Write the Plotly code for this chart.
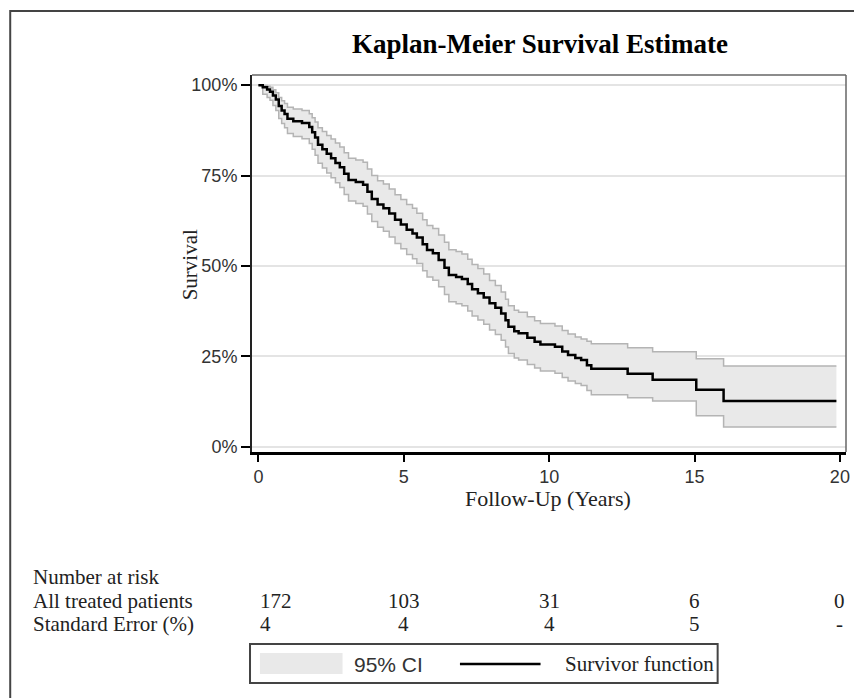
import plotly.graph_objects as go

# ---- data ----
times = [0.0, 0.15, 0.3, 0.4, 0.5, 0.6, 0.7, 0.8, 0.9, 1.0, 1.2, 1.5, 1.75, 1.85, 1.95,
         2.05, 2.2, 2.35, 2.5, 2.65, 2.8, 2.95, 3.1, 3.35, 3.6, 3.75, 3.9, 4.1, 4.3, 4.5,
         4.7, 4.9, 5.1, 5.3, 5.45, 5.65, 5.8, 6.0, 6.2, 6.4, 6.55, 6.8, 7.0, 7.2, 7.35,
         7.55, 7.75, 7.95, 8.15, 8.35, 8.5, 8.6, 8.8, 8.95, 9.25, 9.5, 9.7, 10.2, 10.45,
         10.65, 10.9, 11.1, 11.3, 11.45, 12.7, 13.56, 15.06, 16.0]
survival = [100, 99.4, 98.8, 98.2, 97.1, 96.0, 94.2, 93.0, 92.0, 90.7, 90.0, 89.5, 88.4, 87.0, 85.5,
            83.5, 82.3, 81.0, 79.8, 78.5, 77.3, 75.5, 73.8, 73.2, 72.5, 70.5, 68.5, 67.0, 66.0, 64.5,
            62.8, 61.5, 60.0, 59.0, 57.9, 56.0, 54.4, 53.5, 51.7, 49.5, 47.5, 47.0, 46.4, 45.0, 43.6,
            42.5, 41.3, 39.7, 38.5, 36.9, 35.0, 33.2, 32.0, 31.4, 30.2, 29.1, 28.3, 27.7, 26.4,
            25.4, 24.6, 24.0, 22.6, 21.6, 20.2, 18.6, 15.8, 12.7]
ci_lower = [100, 97.5, 96.6, 95.8, 94.4, 93.0, 90.8, 89.4, 88.2, 86.6, 85.8, 85.2, 83.9, 82.3, 80.6,
            78.4, 77.1, 75.7, 74.4, 73.0, 71.7, 69.8, 68.0, 67.3, 66.5, 64.4, 62.3, 60.7, 59.6, 58.0,
            56.2, 54.8, 53.2, 52.0, 50.7, 48.7, 47.0, 46.1, 44.3, 42.1, 40.1, 39.6, 39.0, 37.6, 36.2,
            35.1, 33.9, 32.3, 31.1, 29.5, 27.6, 25.8, 24.6, 24.0, 22.8, 21.8, 21.0, 20.4, 19.2,
            18.2, 17.5, 17.0, 15.6, 14.4, 13.6, 12.7, 8.6, 5.5]
ci_upper = [100, 99.9, 99.7, 99.4, 98.7, 97.9, 96.6, 95.7, 94.9, 93.9, 93.4, 93.0, 92.1, 91.0, 89.8,
            88.2, 87.2, 86.1, 85.1, 84.0, 82.9, 81.3, 79.8, 79.3, 78.7, 76.8, 75.0, 73.6, 72.7, 71.3,
            69.7, 68.4, 67.0, 66.0, 64.6, 62.8, 61.2, 60.4, 58.6, 56.6, 54.5, 54.0, 53.3, 51.9, 50.4,
            49.3, 47.8, 46.0, 44.6, 42.8, 40.8, 39.0, 37.8, 37.2, 36.0, 34.9, 34.1, 33.4, 32.2,
            31.2, 30.4, 29.8, 29.2, 28.5, 27.4, 26.3, 24.4, 22.4]
last_followup = 19.88

risk_times = [0, 5, 10, 15, 20]
n_at_risk = ["172", "103", "31", "6", "0"]
std_error = ["4", "4", "4", "5", "-"]

y_tickvals = [0, 25, 50, 75, 100]
y_ticktext = ["0%", "25%", "50%", "75%", "100%"]
x_tickvals = [0, 5, 10, 15, 20]

SERIF = "Liberation Serif, Times New Roman, serif"
SANS = "Liberation Sans, Arial, sans-serif"

xs = times + [last_followup]
fig = go.Figure()
fig.add_trace(go.Scatter(x=xs, y=ci_upper + [ci_upper[-1]], mode="lines", line_shape="hv",
                         line=dict(color="#b4b4b4", width=1.5), showlegend=False, hoverinfo="skip"))
fig.add_trace(go.Scatter(x=xs, y=ci_lower + [ci_lower[-1]], mode="lines", line_shape="hv",
                         line=dict(color="#b4b4b4", width=1.5), fill="tonexty", fillcolor="#e9e9e9",
                         name="95% CI", showlegend=False))
fig.add_trace(go.Scatter(x=xs, y=survival + [survival[-1]], mode="lines", line_shape="hv",
                         line=dict(color="black", width=2.5), name="Survivor function", showlegend=False))

# the page body has an 8px margin: page coordinate = figure coordinate + 8
OFF = 8
W, H = 862 - OFF, 698 - OFF
L, R, T, B = 252 - OFF, 849 - OFF, 75 - OFF, 452 - OFF

def px(xpage):
    return (xpage - OFF - L) / (R - L)

def py(ypage):
    return (B - (ypage - OFF)) / (B - T)

shapes = [
    # outer frame
    dict(type="rect", xref="paper", yref="paper", x0=px(9), x1=px(900), y0=py(11), y1=py(760),
         line=dict(color="#444", width=2)),
    # top and right plot frame
    dict(type="line", xref="paper", yref="paper", x0=0, x1=1, y0=1, y1=1, line=dict(color="#666", width=1.5)),
    dict(type="line", xref="paper", yref="paper", x0=1, x1=1, y0=0, y1=1, line=dict(color="#666", width=1.5)),
    # legend box
    dict(type="rect", xref="paper", yref="paper", x0=px(250), x1=px(720), y0=py(644), y1=py(683),
         line=dict(color="#444", width=2), fillcolor="white"),
    dict(type="rect", xref="paper", yref="paper", x0=px(260), x1=px(343), y0=py(653), y1=py(674),
         line=dict(width=0), fillcolor="#e9e9e9"),
    dict(type="line", xref="paper", yref="paper", x0=px(461), x1=px(542), y0=py(664), y1=py(664),
         line=dict(color="black", width=2.5)),
]

ann = [
    dict(text="<b>Kaplan-Meier Survival Estimate</b>", x=px(541), y=py(44), xref="paper", yref="paper",
         showarrow=False, font=dict(family=SERIF, size=27, color="black"), xanchor="center", yanchor="middle"),
    dict(text="Survival", x=px(190), y=py(265), xref="paper", yref="paper", textangle=-90,
         showarrow=False, font=dict(family=SERIF, size=21, color="#222"), xanchor="center", yanchor="middle"),
    dict(text="Follow-Up (Years)", x=px(549), y=py(498), xref="paper", yref="paper",
         showarrow=False, font=dict(family=SERIF, size=22, color="#222"), xanchor="center", yanchor="middle"),
    dict(text="Number at risk", x=px(30), y=py(577), xref="paper", yref="paper", showarrow=False,
         font=dict(family=SERIF, size=21, color="#222"), xanchor="left", yanchor="middle"),
    dict(text="All treated patients", x=px(30), y=py(601), xref="paper", yref="paper", showarrow=False,
         font=dict(family=SERIF, size=21, color="#222"), xanchor="left", yanchor="middle"),
    dict(text="Standard Error (%)", x=px(30), y=py(624), xref="paper", yref="paper", showarrow=False,
         font=dict(family=SERIF, size=21, color="#222"), xanchor="left", yanchor="middle"),
    dict(text="95% CI", x=px(353), y=py(664), xref="paper", yref="paper", showarrow=False,
         font=dict(family=SANS, size=21, color="#333"), xanchor="left", yanchor="middle"),
    dict(text="Survivor function", x=px(565), y=py(664), xref="paper", yref="paper", showarrow=False,
         font=dict(family=SERIF, size=21, color="#222"), xanchor="left", yanchor="middle"),
]
for i, (t, n, se) in enumerate(zip(risk_times, n_at_risk, std_error)):
    anchor = "left" if i == 0 else "center"
    ann.append(dict(text=n, x=t, y=py(601), xref="x", yref="paper", showarrow=False,
                    font=dict(family=SERIF, size=21, color="#222"), xanchor=anchor, yanchor="middle"))
    ann.append(dict(text=se, x=t, y=py(624), xref="x", yref="paper", showarrow=False,
                    font=dict(family=SERIF, size=21, color="#222"), xanchor=anchor, yanchor="middle"))

fig.update_layout(
    width=W, height=H, paper_bgcolor="white", plot_bgcolor="white",
    margin=dict(l=L, r=W - R, t=T, b=H - B, pad=0),
    showlegend=False, shapes=shapes, annotations=ann,
)
fig.update_xaxes(range=[-0.22, 20.21], tickvals=x_tickvals, ticks="outside", ticklen=7, tickwidth=1.5,
                 tickcolor="black", showline=True, linecolor="black", linewidth=2.5, showgrid=False,
                 zeroline=False, tickfont=dict(family=SANS, size=18, color="#333"))
fig.update_yaxes(range=[-1.4, 102.8], tickvals=y_tickvals, ticktext=y_ticktext, ticks="outside", ticklen=9,
                 tickwidth=1.5, tickcolor="black", showline=True, linecolor="#222", linewidth=2,
                 showgrid=True, gridcolor="#e4e4e4", gridwidth=1.5, zeroline=False,
                 tickfont=dict(family=SANS, size=18, color="#333"))

fig.write_html("out.html")
